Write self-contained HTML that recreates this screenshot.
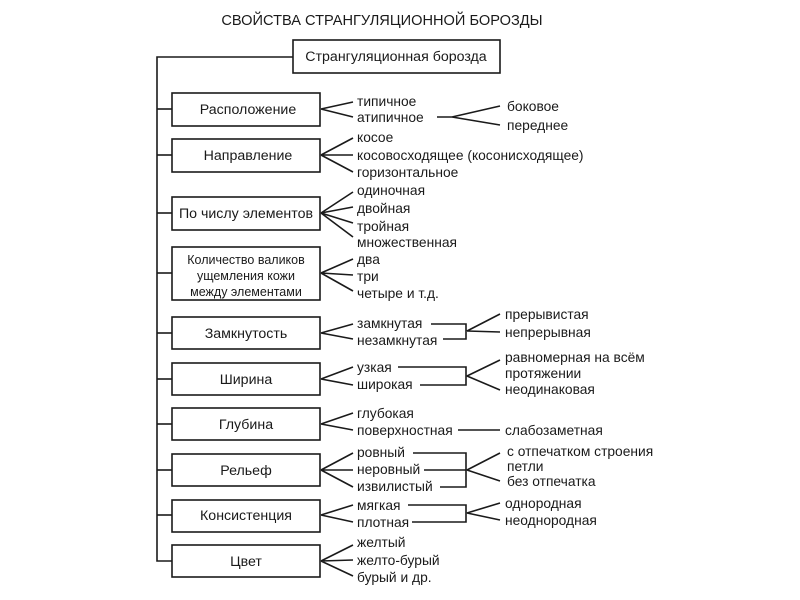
<!DOCTYPE html>
<html><head><meta charset="utf-8"><style>
html,body{margin:0;padding:0;background:#fff;}
svg{display:block}
text{font-family:"Liberation Sans","DejaVu Sans",sans-serif;fill:#1a1a1a;font-size:13.8px}
.b{font-size:14.2px}
</style></head><body>
<svg width="800" height="600" viewBox="0 0 800 600" xmlns="http://www.w3.org/2000/svg">
<g stroke="#1a1a1a" stroke-width="1.6" fill="none">
<polyline points="293,57 157,57 157,561 172,561"/>
<line x1="157" y1="109" x2="172" y2="109"/>
<line x1="157" y1="155" x2="172" y2="155"/>
<line x1="157" y1="213" x2="172" y2="213"/>
<line x1="157" y1="273" x2="172" y2="273"/>
<line x1="157" y1="333" x2="172" y2="333"/>
<line x1="157" y1="379" x2="172" y2="379"/>
<line x1="157" y1="424" x2="172" y2="424"/>
<line x1="157" y1="470" x2="172" y2="470"/>
<line x1="157" y1="515" x2="172" y2="515"/>
<rect x="293" y="40" width="207" height="33"/>
<rect x="172" y="93" width="148" height="33"/>
<rect x="172" y="139" width="148" height="33"/>
<rect x="172" y="197" width="148" height="33"/>
<rect x="172" y="247" width="148" height="53"/>
<rect x="172" y="317" width="148" height="32"/>
<rect x="172" y="363" width="148" height="32"/>
<rect x="172" y="408" width="148" height="32"/>
<rect x="172" y="454" width="148" height="32"/>
<rect x="172" y="500" width="148" height="32"/>
<rect x="172" y="545" width="148" height="32"/>
<path d="M321,109 L353,102 M321,109 L353,117"/>
<path d="M321,155 L353,138 M321,155 L353,155 M321,155 L353,172"/>
<path d="M321,213 L353,192 M321,213 L353,207 M321,213 L353,223 M321,213 L353,237"/>
<path d="M321,273 L353,259 M321,273 L353,275 M321,273 L353,291"/>
<path d="M321,333 L353,324 M321,333 L353,339"/>
<path d="M321,379 L353,367 M321,379 L353,385"/>
<path d="M321,424 L353,413 M321,424 L353,430"/>
<path d="M321,470 L353,453 M321,470 L353,470 M321,470 L353,487"/>
<path d="M321,515 L353,505 M321,515 L353,522"/>
<path d="M321,561 L353,545 M321,561 L353,560 M321,561 L353,576"/>
<path d="M437,117 L452,117 M452,117 L500,106 M452,117 L500,125"/>
<path d="M431,324 L466,324 L466,339 L443,339 M467,331 L500,314 M467,331 L500,332"/>
<path d="M398,367 L466,367 L466,385 L420,385 M467,376 L500,360 M467,376 L500,390"/>
<path d="M458,430 L500,430"/>
<path d="M413,453 L466,453 L466,487 L440,487 M424,470 L466,470 M467,470 L500,453 M467,470 L500,481"/>
<path d="M408,505 L466,505 L466,522 L412,522 M467,513 L500,503 M467,513 L500,520"/>
</g>
<text x="382" y="25" text-anchor="middle" style="font-size:14.6px">СВОЙСТВА СТРАНГУЛЯЦИОННОЙ БОРОЗДЫ</text>
<text x="396" y="61" text-anchor="middle" class="b">Странгуляционная борозда</text>
<text x="248" y="114" text-anchor="middle" class="b">Расположение</text>
<text x="248" y="160" text-anchor="middle" class="b">Направление</text>
<text x="246" y="218" text-anchor="middle" class="b">По числу элементов</text>
<text x="246" y="264" text-anchor="middle" style="font-size:12.5px">Количество валиков</text>
<text x="246" y="280" text-anchor="middle" style="font-size:12.5px">ущемления кожи</text>
<text x="246" y="296" text-anchor="middle" style="font-size:12.5px">между элементами</text>
<text x="246" y="338" text-anchor="middle" class="b">Замкнутость</text>
<text x="246" y="384" text-anchor="middle" class="b">Ширина</text>
<text x="246" y="429" text-anchor="middle" class="b">Глубина</text>
<text x="246" y="475" text-anchor="middle" class="b">Рельеф</text>
<text x="246" y="520" text-anchor="middle" class="b">Консистенция</text>
<text x="246" y="566" text-anchor="middle" class="b">Цвет</text>

<text x="357" y="106">типичное</text>
<text x="357" y="122">атипичное</text>
<text x="507" y="111">боковое</text>
<text x="507" y="130">переднее</text>
<text x="357" y="142">косое</text>
<text x="357" y="160">косовосходящее (косонисходящее)</text>
<text x="357" y="177">горизонтальное</text>
<text x="357" y="195">одиночная</text>
<text x="357" y="213">двойная</text>
<text x="357" y="231">тройная</text>
<text x="357" y="247">множественная</text>
<text x="357" y="264">два</text>
<text x="357" y="281">три</text>
<text x="357" y="298">четыре и т.д.</text>
<text x="357" y="328">замкнутая</text>
<text x="357" y="345">незамкнутая</text>
<text x="505" y="319">прерывистая</text>
<text x="505" y="337">непрерывная</text>
<text x="357" y="372">узкая</text>
<text x="357" y="389">широкая</text>
<text x="505" y="362">равномерная на всём</text>
<text x="505" y="378">протяжении</text>
<text x="505" y="394">неодинаковая</text>
<text x="357" y="418">глубокая</text>
<text x="357" y="435">поверхностная</text>
<text x="505" y="435">слабозаметная</text>
<text x="357" y="457">ровный</text>
<text x="357" y="474">неровный</text>
<text x="357" y="491">извилистый</text>
<text x="507" y="456">с отпечатком строения</text>
<text x="507" y="471">петли</text>
<text x="507" y="486">без отпечатка</text>
<text x="357" y="510">мягкая</text>
<text x="357" y="527">плотная</text>
<text x="505" y="508">однородная</text>
<text x="505" y="525">неоднородная</text>
<text x="357" y="547">желтый</text>
<text x="357" y="565">желто-бурый</text>
<text x="357" y="582">бурый и др.</text>
</svg>
</body></html>
